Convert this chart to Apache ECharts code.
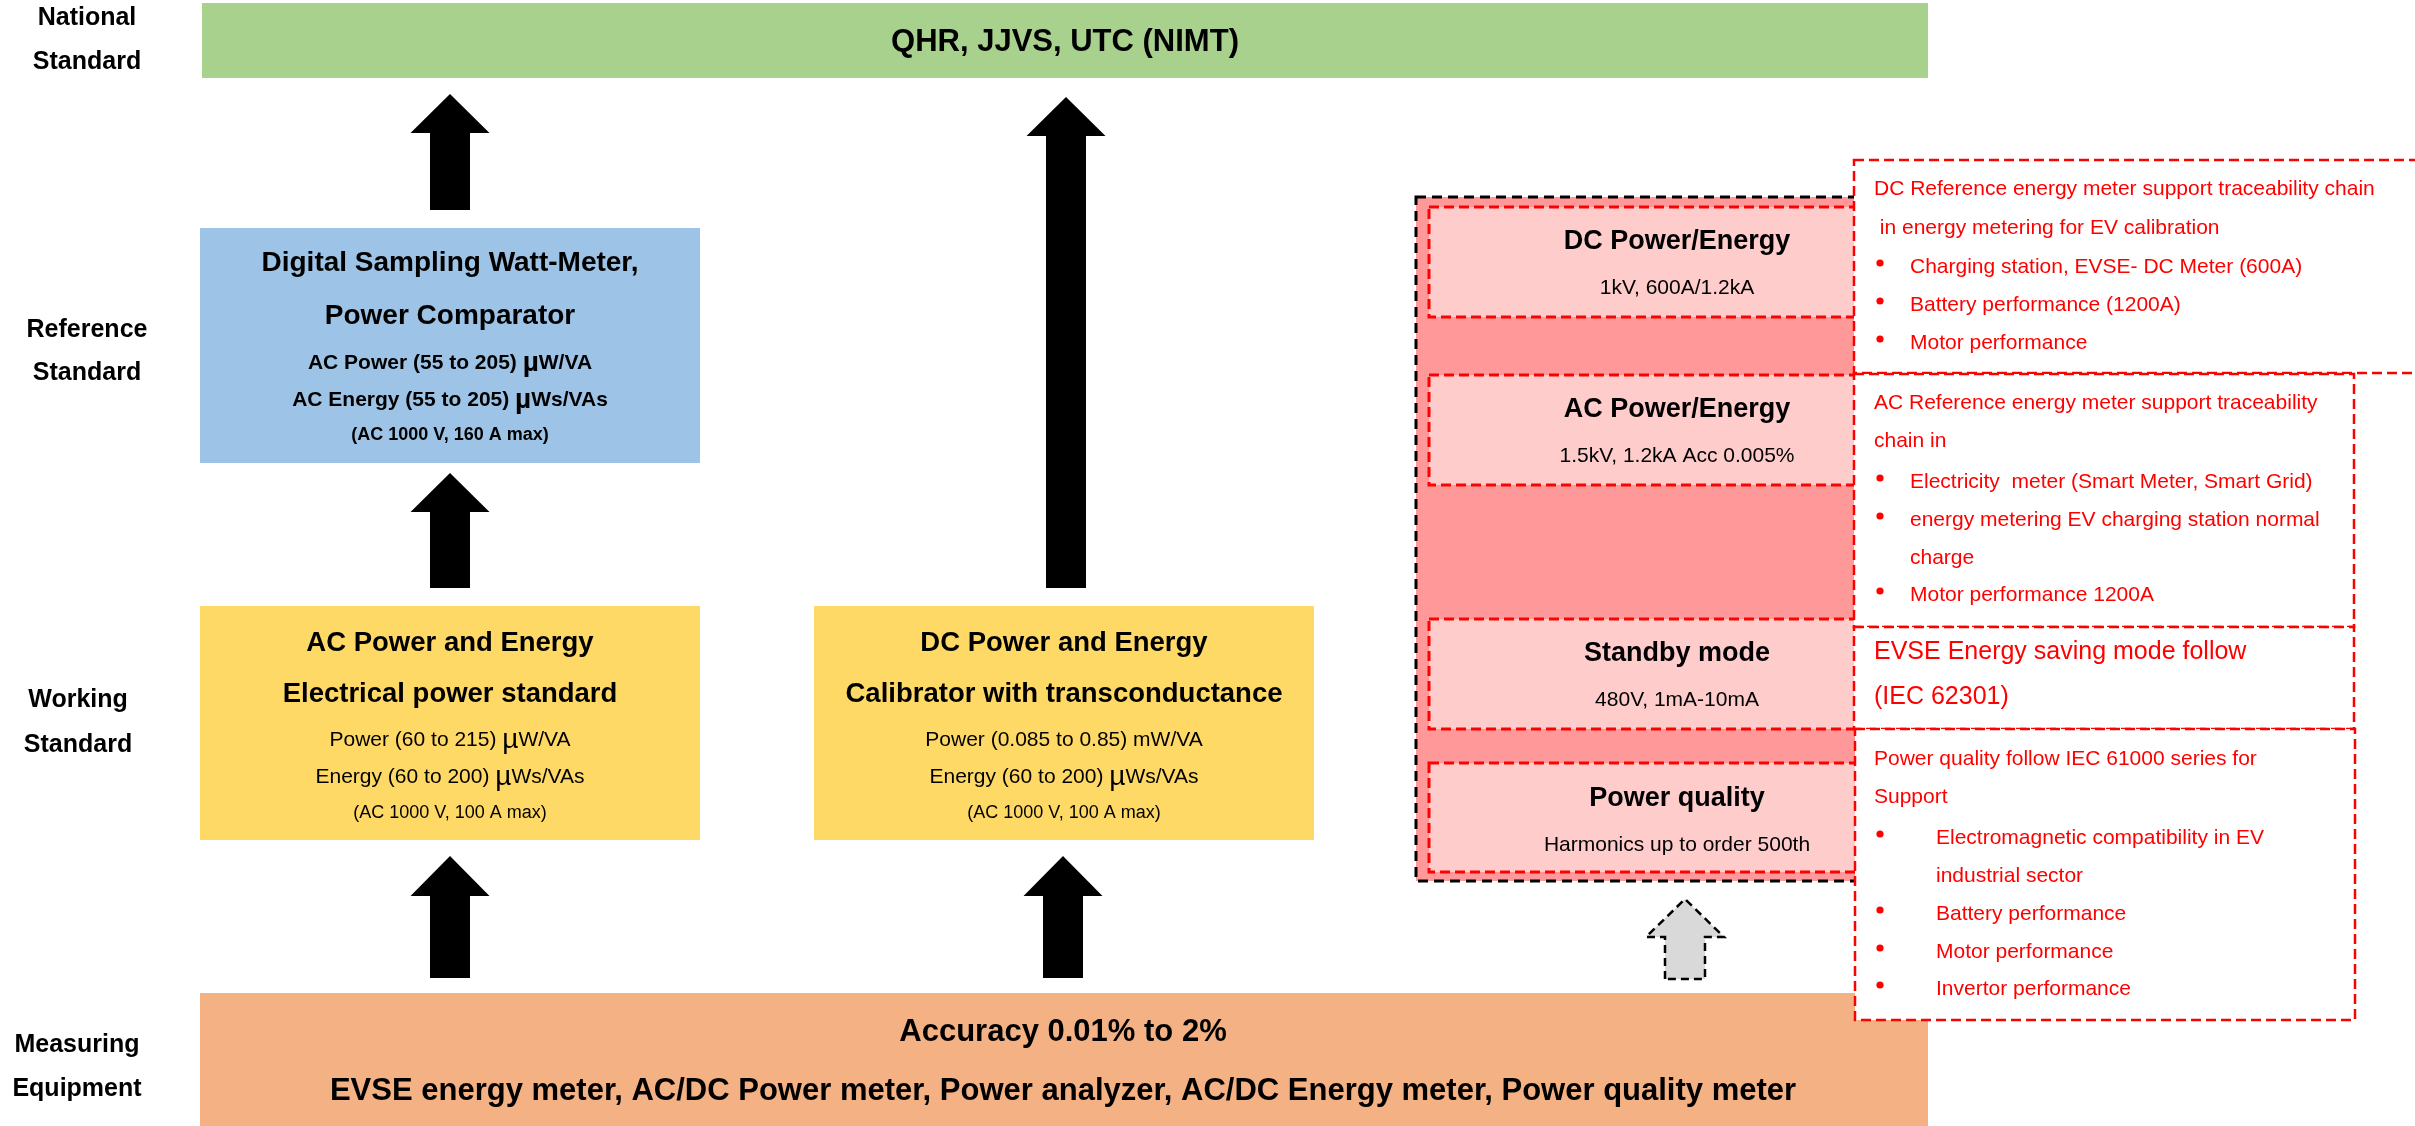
<!DOCTYPE html>
<html>
<head>
<meta charset="utf-8">
<script src="https://cdn.jsdelivr.net/npm/echarts@6/dist/echarts.min.js"></script>
<style>html,body{margin:0;padding:0;background:#fff;}#c{width:2415px;height:1126px;}</style>
</head>
<body>
<div id="c"></div>
<script>
// ---------- DATA (texts of the diagram) ----------
const levelLabels = [['National', 'Standard'], ['Reference', 'Standard'], ['Working', 'Standard'], ['Measuring', 'Equipment']];
const nationalText = ['QHR, JJVS, UTC (NIMT)'];
const referenceBox = ['Digital Sampling Watt-Meter,', 'Power Comparator', 'AC Power (55 to 205) µW/VA', 'AC Energy (55 to 205) µWs/VAs', '(AC 1000 V, 160 A max)'];
const acWorkingBox = ['AC Power and Energy', 'Electrical power standard', 'Power (60 to 215) µW/VA', 'Energy (60 to 200) µWs/VAs', '(AC 1000 V, 100 A max)'];
const dcWorkingBox = ['DC Power and Energy', 'Calibrator with transconductance', 'Power (0.085 to 0.85) mW/VA', 'Energy (60 to 200) µWs/VAs', '(AC 1000 V, 100 A max)'];
const measuringBox = ['Accuracy 0.01% to 2%', 'EVSE energy meter, AC/DC Power meter, Power analyzer, AC/DC Energy meter, Power quality meter'];
const pinkTitles = ['DC Power/Energy', 'AC Power/Energy', 'Standby mode', 'Power quality'];
const pinkSubs = ['1kV, 600A/1.2kA', '1.5kV, 1.2kA Acc 0.005%', '480V, 1mA-10mA', 'Harmonics up to order 500th'];
const dcNoteHead = ['DC Reference energy meter support traceability chain', ' in energy metering for EV calibration'];
const dcNoteBullets = [['Charging station, EVSE- DC Meter (600A)'], ['Battery performance (1200A)'], ['Motor performance']];
const acNoteHead = ['AC Reference energy meter support traceability', 'chain in'];
const acNoteBullets = [['Electricity  meter (Smart Meter, Smart Grid)'], ['energy metering EV charging station normal', 'charge'], ['Motor performance 1200A']];
const evseNote = ['EVSE Energy saving mode follow', '(IEC 62301)'];
const pqNoteHead = ['Power quality follow IEC 61000 series for', 'Support'];
const pqNoteBullets = [['Electromagnetic compatibility in EV', 'industrial sector'], ['Battery performance'], ['Motor performance'], ['Invertor performance']];

// ---------- LAYOUT / STYLE ----------
const FONT = '"Liberation Sans", Arial, sans-serif';
const C = {green:'#A9D18E', blue:'#9DC3E6', yellow:'#FFD966', orange:'#F4B183', pinkDark:'#FF9999', pinkLight:'#FFCCCC', red:'#FF0000', gray:'#D9D9D9'};

function rect(x, y, w, h, fill, stroke, dash, lw) {
  return {type:'rect', silent:true, shape:{x:x, y:y, width:w, height:h},
    style:{fill:fill || 'none', stroke:stroke || null, lineWidth:lw || 0, lineDash:dash || null}};
}
function txt(x, y, s, size, bold, color, align) {
  const fw = bold ? 'bold' : 'normal';
  const col = color || '#000';
  const st = {fill:col, fontSize:size, fontWeight:fw, fontFamily:FONT,
    align:align || 'center', verticalAlign:'middle', textAlign:align || 'center', textVerticalAlign:'middle'};
  if (s.indexOf('µ') >= 0) {
    const parts = s.split('µ');
    st.text = parts.map(p => p ? '{t|' + p + '}' : '').join('{m|µ}');
    st.rich = {
      t:{fontSize:size, fontWeight:fw, fontFamily:FONT, fill:col, color:col},
      m:{fontSize:Math.round(size * 1.35), fontWeight:fw, fontFamily:FONT, fill:col, color:col}
    };
  } else {
    st.text = s;
  }
  return {type:'text', silent:true, x:x, y:y, style:st};
}
function dot(x, y, r, color) {
  return {type:'circle', silent:true, shape:{cx:x, cy:y, r:r}, style:{fill:color}};
}
function arrow(cx, tip, base, bottom, hw, sw, fill, stroke, dash) {
  return {type:'polygon', silent:true, shape:{points:[
    [cx - sw/2, bottom], [cx - sw/2, base], [cx - hw/2, base], [cx, tip],
    [cx + hw/2, base], [cx + sw/2, base], [cx + sw/2, bottom]]},
    style:{fill:fill, stroke:stroke || null, lineWidth:stroke ? 2.5 : 0, lineDash:dash || null}};
}

const els = [];

// left level labels
const labelPos = [[87, 18, 62], [87, 330, 373], [78, 700, 745], [77, 1045, 1089]];
levelLabels.forEach((lab, i) => {
  const p = labelPos[i];
  els.push(txt(p[0], p[1], lab[0], 25, true));
  els.push(txt(p[0], p[2], lab[1], 25, true));
});

// national box
els.push(rect(202, 3, 1726, 75, C.green));
els.push(txt(1065, 42, nationalText[0], 31, true));

// reference box
els.push(rect(200, 228, 500, 235, C.blue));
const refY = [263, 316, 363, 400, 435];
const refSize = [28, 28, 21, 21, 18];
referenceBox.forEach((s, i) => els.push(txt(450, refY[i], s, refSize[i], true)));

// working boxes
const wY = [643, 694, 740, 777, 813];
const wSize = [27.5, 27.5, 21, 21, 18];
els.push(rect(200, 606, 500, 234, C.yellow));
acWorkingBox.forEach((s, i) => els.push(txt(450, wY[i], s, wSize[i], i < 2)));
els.push(rect(814, 606, 500, 234, C.yellow));
dcWorkingBox.forEach((s, i) => els.push(txt(1064, wY[i], s, wSize[i], i < 2)));

// measuring box
els.push(rect(200, 993, 1728, 133, C.orange));
els.push(txt(1063, 1032, measuringBox[0], 31, true));
els.push(txt(1063, 1091, measuringBox[1], 31, true));

// black arrows
els.push(arrow(450, 94, 133, 210, 79, 40, '#000'));
els.push(arrow(450, 473, 512, 588, 79, 40, '#000'));
els.push(arrow(1066, 97, 136, 588, 79, 40, '#000'));
els.push(arrow(450, 856, 896, 978, 79, 40, '#000'));
els.push(arrow(1063, 856, 896, 978, 79, 40, '#000'));
// gray dashed arrow
els.push(arrow(1685, 899, 937, 979, 78, 40, C.gray, '#000', [8, 5]));

// right pink panel
els.push(rect(1416, 197, 520, 684, C.pinkDark, '#000', [10, 6], 3));
const pinkBoxY = [[207, 317], [375, 485], [619, 729], [763, 872]];
const pinkTY = [[242, 288], [410, 456], [654, 700], [799, 845]];
pinkBoxY.forEach((b) => {
  els.push(rect(1429, b[0], 496, b[1] - b[0], C.pinkLight, C.red, [10, 5], 3));
});

// notes (white boxes with red dashed border)
els.push(rect(1854, 160, 600, 213, '#fff', C.red, [10, 5], 2.5));
els.push(rect(1854, 374, 500, 253, '#fff', C.red, [10, 5], 2.5));
els.push(rect(1854, 627, 500, 102, '#fff', C.red, [10, 5], 2.5));
els.push(rect(1855, 729, 500, 291, '#fff', C.red, [10, 5], 2.5));

// pink texts
pinkTitles.forEach((s, i) => {
  els.push(txt(1677, pinkTY[i][0], s, 27, true));
  els.push(txt(1677, pinkTY[i][1], pinkSubs[i], 21, false));
});

// note texts
function noteBlock(headLines, headY, bullets, bulletY, textX, size) {
  headLines.forEach((s, i) => els.push(txt(1874, headY[i], s, size, false, C.red, 'left')));
  let k = 0;
  bullets.forEach((b) => {
    els.push(dot(1880, bulletY[k] - 4, 3.6, C.red));
    b.forEach((s) => { els.push(txt(textX, bulletY[k], s, size, false, C.red, 'left')); k++; });
  });
}
noteBlock(dcNoteHead, [189, 228], dcNoteBullets, [267, 305, 343], 1910, 21);
noteBlock(acNoteHead, [403, 441], acNoteBullets, [482, 520, 558, 595], 1910, 21);
els.push(txt(1874, 652, evseNote[0], 25, false, C.red, 'left'));
els.push(txt(1874, 697, evseNote[1], 25, false, C.red, 'left'));
noteBlock(pqNoteHead, [759, 797], pqNoteBullets, [838, 876, 914, 952, 989], 1936, 21);

const chart = echarts.init(document.getElementById('c'), null, {renderer:'canvas', width:2415, height:1126});
chart.setOption({
  backgroundColor:'#ffffff',
  animation:false,
  graphic:{elements:els}
});
</script>
</body>
</html>
